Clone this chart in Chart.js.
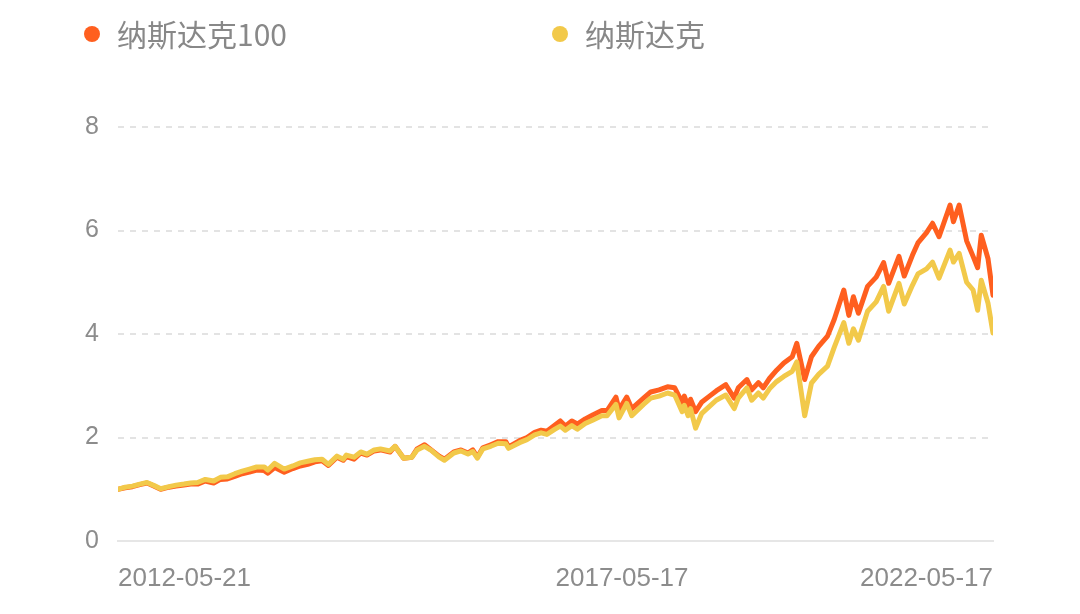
<!DOCTYPE html>
<html>
<head>
<meta charset="utf-8">
<script src="https://cdn.jsdelivr.net/npm/chart.js@4.4.1/dist/chart.umd.min.js"></script>
<style>
  html, body { margin: 0; padding: 0; background: #fff; }
  #wrap { position: relative; width: 1080px; height: 614px; }
  .legend-item { position: absolute; top: 13px; height: 40px; line-height: 40px;
    font-family: "Noto Sans CJK SC", "Noto Sans", sans-serif; font-size: 30px; color: #888; }
  .legend-item .dot { position: absolute; left: -33px; top: 13px; width: 16px; height: 16px; border-radius: 50%; }
</style>
</head>
<body>
<div id="wrap">
  <canvas id="myChart" width="1080" height="614"></canvas>
  <div class="legend-item" style="left:117px"><span class="dot" style="background:#FF5F1F"></span>纳斯达克100</div>
  <div class="legend-item" style="left:585px"><span class="dot" style="background:#F2C94A"></span>纳斯达克</div>
</div>
<script>
  // Datas (aprox. mensais, mais densas nos trechos voláteis)
  const datas = [
    '2012-05-21','2012-06-20','2012-07-20','2012-08-20','2012-09-19','2012-10-19','2012-11-15','2012-12-20',
    '2013-01-18','2013-02-20','2013-03-20','2013-04-18','2013-05-20','2013-06-24','2013-07-22','2013-08-20',
    '2013-09-20','2013-10-21','2013-11-20','2013-12-20','2014-01-21','2014-02-05','2014-03-05','2014-04-14',
    '2014-05-20','2014-06-20','2014-07-21','2014-08-20','2014-09-19','2014-10-15','2014-11-20','2014-12-16',
    '2014-12-29','2015-01-30','2015-02-27','2015-03-25','2015-04-24','2015-05-20','2015-06-29','2015-07-20',
    '2015-08-25','2015-09-28','2015-10-20','2015-11-20','2015-12-18','2016-01-20','2016-02-11','2016-03-21',
    '2016-04-20','2016-05-19','2016-06-08','2016-06-27','2016-07-20','2016-08-22','2016-09-22','2016-10-24',
    '2016-11-04','2016-12-20','2017-01-20','2017-02-21','2017-03-20','2017-04-13','2017-05-17','2017-06-08',
    '2017-06-29','2017-07-26','2017-08-18','2017-09-20','2017-10-23','2017-11-28','2017-12-20','2018-01-26',
    '2018-02-08','2018-03-12','2018-04-02','2018-05-21','2018-06-20','2018-07-25','2018-08-29','2018-09-28',
    '2018-10-29','2018-11-07','2018-11-23','2018-12-03','2018-12-24','2019-01-18','2019-02-20','2019-03-20',
    '2019-04-29','2019-06-03','2019-06-20','2019-07-26','2019-08-15','2019-09-12','2019-10-02','2019-10-28',
    '2019-11-27','2019-12-27','2020-01-31','2020-02-19','2020-03-23','2020-04-20','2020-05-20','2020-06-26',
    '2020-07-24','2020-09-02','2020-09-23','2020-10-12','2020-11-02','2020-12-10','2021-01-15','2021-02-15',
    '2021-03-08','2021-04-20','2021-05-12','2021-06-15','2021-07-08','2021-08-13','2021-09-07','2021-10-04',
    '2021-11-19','2021-12-03','2021-12-27','2022-01-27','2022-02-23','2022-03-14','2022-03-29','2022-04-26',
    '2022-05-17'
  ];

  const nasdaq100 = [
    1.00,1.03,1.05,1.09,1.12,1.06,1.00,1.04,
    1.06,1.08,1.10,1.10,1.16,1.12,1.19,1.20,
    1.25,1.30,1.33,1.37,1.36,1.31,1.42,1.33,
    1.40,1.45,1.48,1.53,1.55,1.46,1.62,1.56,
    1.63,1.58,1.70,1.66,1.74,1.76,1.72,1.83,
    1.60,1.62,1.78,1.86,1.76,1.64,1.58,1.72,
    1.76,1.70,1.76,1.62,1.80,1.86,1.92,1.92,
    1.82,1.94,2.00,2.10,2.14,2.12,2.24,2.32,
    2.22,2.32,2.26,2.36,2.44,2.52,2.52,2.78,
    2.54,2.78,2.56,2.76,2.88,2.92,2.98,2.96,
    2.68,2.80,2.60,2.74,2.50,2.68,2.80,2.90,
    3.02,2.76,2.96,3.12,2.92,3.06,2.96,3.14,
    3.30,3.44,3.56,3.82,3.12,3.56,3.76,3.96,
    4.28,4.85,4.36,4.72,4.40,4.92,5.10,5.38,
    4.98,5.50,5.12,5.52,5.76,5.96,6.14,5.88,
    6.49,6.17,6.49,5.80,5.50,5.28,5.91,5.46,
    4.75
  ];

  const nasdaq = [
    1.00,1.04,1.06,1.10,1.13,1.07,1.01,1.05,
    1.08,1.10,1.12,1.13,1.19,1.16,1.23,1.24,
    1.30,1.35,1.39,1.43,1.43,1.37,1.50,1.39,
    1.45,1.51,1.54,1.57,1.58,1.48,1.64,1.58,
    1.66,1.62,1.72,1.68,1.76,1.78,1.74,1.83,
    1.60,1.62,1.76,1.83,1.75,1.62,1.56,1.70,
    1.74,1.68,1.73,1.60,1.78,1.83,1.89,1.88,
    1.79,1.90,1.96,2.05,2.09,2.06,2.16,2.22,
    2.14,2.23,2.16,2.27,2.34,2.42,2.42,2.64,
    2.38,2.66,2.42,2.64,2.76,2.80,2.86,2.82,
    2.50,2.62,2.42,2.56,2.18,2.46,2.60,2.72,
    2.82,2.56,2.76,2.96,2.72,2.86,2.76,2.94,
    3.08,3.18,3.28,3.46,2.42,3.05,3.22,3.38,
    3.74,4.22,3.82,4.10,3.88,4.44,4.62,4.92,
    4.44,4.98,4.58,4.94,5.16,5.26,5.39,5.08,
    5.62,5.39,5.56,5.00,4.85,4.46,5.04,4.60,
    4.02
  ];

  const rotulosEixoX = ['2012-05-21', '2017-05-17', '2022-05-17'];
  const ticksEixoY = [0, 2, 4, 6, 8];

  const corLaranja = '#FF5F1F';
  const corAmarela = '#F2C94A';

  function paraTempo(str) {
    return Date.parse(str + 'T00:00:00Z');
  }

  const fonteEixo = "'Liberation Sans', Arial, sans-serif";
  const tamanhoFonteX = 26;

  new Chart(document.getElementById('myChart'), {
    type: 'line',
    data: {
      datasets: [
        {
          label: '纳斯达克100',
          data: datas.map((d, i) => ({ x: paraTempo(d), y: nasdaq100[i] })),
          borderColor: corLaranja,
          backgroundColor: corLaranja,
          borderWidth: 5,
          pointRadius: 0,
          tension: 0,
          borderJoinStyle: 'round',
          borderCapStyle: 'round',
          order: 1
        },
        {
          label: '纳斯达克',
          data: datas.map((d, i) => ({ x: paraTempo(d), y: nasdaq[i] })),
          borderColor: corAmarela,
          backgroundColor: corAmarela,
          borderWidth: 5,
          pointRadius: 0,
          tension: 0,
          borderJoinStyle: 'round',
          borderCapStyle: 'round',
          order: 0
        }
      ]
    },
    options: {
      responsive: false,
      animation: false,
      layout: { padding: { top: 127, right: 87, left: 0, bottom: 0 } },
      plugins: { legend: { display: false }, tooltip: { enabled: false } },
      scales: {
        x: {
          type: 'linear',
          min: paraTempo(rotulosEixoX[0]),
          max: paraTempo(rotulosEixoX[rotulosEixoX.length - 1]),
          afterFit: scale => { scale.height = 73; },
          afterBuildTicks: scale => {
            // rótulo do meio começa no meio do eixo (alinhado à esquerda, como no original)
            const ctx = scale.ctx;
            ctx.save();
            ctx.font = tamanhoFonteX + 'px ' + fonteEixo;
            const meiaLargura = ctx.measureText(rotulosEixoX[1]).width / 2;
            ctx.restore();
            const ini = scale.min, fim = scale.max;
            const meio = (ini + fim) / 2 + meiaLargura / 875 * (fim - ini);
            scale.ticks = [{ value: ini }, { value: meio }, { value: fim }];
          },
          grid: { display: true, drawOnChartArea: false, drawTicks: false },
          border: { display: true, color: '#e6e6e6', width: 2 },
          ticks: {
            autoSkip: false,
            maxRotation: 0,
            align: 'inner',
            padding: 22,
            color: '#8c8c8c',
            font: { family: fonteEixo, size: tamanhoFonteX },
            callback: (value, index) => rotulosEixoX[index]
          }
        },
        y: {
          min: 0,
          max: 8,
          afterFit: scale => { scale.width = 118; },
          afterBuildTicks: scale => {
            scale.ticks = ticksEixoY.map(v => ({ value: v }));
          },
          grid: { color: '#e3e3e3', lineWidth: 2, drawTicks: false },
          border: { display: false, dash: [6, 6] },
          ticks: {
            padding: 19,
            color: '#8c8c8c',
            font: { family: fonteEixo, size: 25 }
          }
        }
      }
    }
  });
</script>
</body>
</html>
